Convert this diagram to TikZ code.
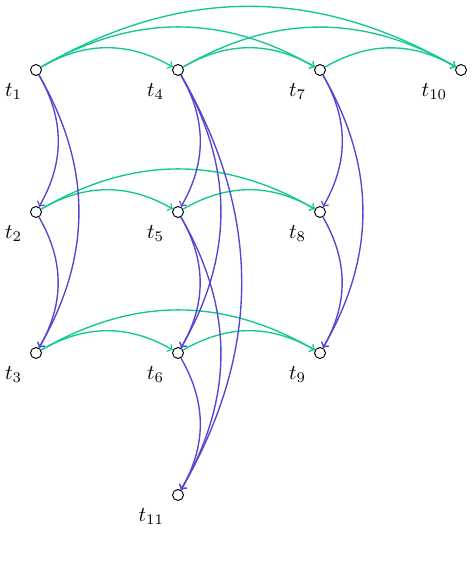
\documentclass[tikz,border=0pt]{standalone}
\definecolor{gcol}{RGB}{20,200,150}
\definecolor{bcol}{RGB}{85,70,210}
\begin{document}
\begin{tikzpicture}[x=0.475pt,y=-0.475pt,
  vert/.style={circle,draw=black,fill=white,minimum size=5.2pt,inner sep=0pt,line width=0.45pt},
  lab/.style={anchor=north east,inner sep=0pt},
  ge/.style={draw=gcol,->,line width=0.65pt,bend left=30},
  be/.style={draw=bcol,->,line width=0.65pt,bend left=30}]
\useasboundingbox (0,0) rectangle (474,564);
\foreach \n/\x/\y in {1/36/70,4/178/70,7/320/70,10/461/70,2/36/212,5/178/212,8/320/212,3/36/353,6/178/353,9/320/353,11/178/495}{
  \node[vert] (t\n) at (\x,\y) {};
  \node[lab] (l\n) at (\x-13.5,\y+13) {$t_{\n}$};
}
% green
\draw[ge] (t1) to (t4);
\draw[ge] (t1) to (t7);
\draw[ge] (t1) to (t10);
\draw[ge] (t4) to (t7);
\draw[ge] (t4) to (t10);
\draw[ge] (t7) to (t10);
\draw[ge] (t2) to (t5);
\draw[ge] (t2) to (t8);
\draw[ge] (t5) to (t8);
\draw[ge] (t3) to (t6);
\draw[ge] (t3) to (t9);
\draw[ge] (t6) to (t9);
% blue
\draw[be] (t1) to (t2);
\draw[be] (t1) to (t3);
\draw[be] (t2) to (t3);
\draw[be] (t4) to (t5);
\draw[be] (t4) to (t6);
\draw[be] (t4) to (t11);
\draw[be] (t5) to (t6);
\draw[be] (t5) to (t11);
\draw[be] (t6) to (t11);
\draw[be] (t7) to (t8);
\draw[be] (t7) to (t9);
\draw[be] (t8) to (t9);
\end{tikzpicture}
\end{document}
